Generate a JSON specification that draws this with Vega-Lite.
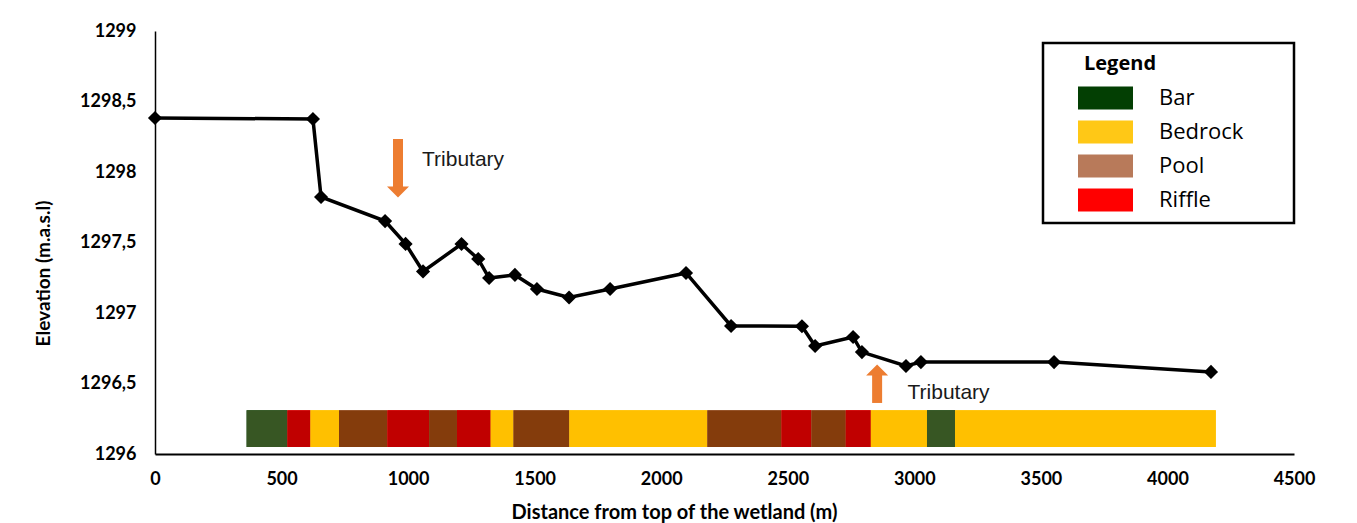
{
  "$schema": "https://vega.github.io/schema/vega-lite/v6.json",
  "autosize": {"type": "none"},
  "width": 1139,
  "height": 423,
  "padding": {"left": 155, "top": 31, "right": 63, "bottom": 69},
  "background": "white",
  "config": {
    "view": {"stroke": null},
    "axis": {"grid": false, "ticks": false, "domainColor": "black", "labelColor": "black", "titleColor": "black", "labelFont": "Lato", "titleFont": "Lato", "labelFontWeight": "bold", "titleFontWeight": "bold"},
    "legend": {"strokeWidth": 2.5}
  },
  "datasets": {
    "profile": [
      {"distance": 0, "elevation": 1298.383},
      {"distance": 624, "elevation": 1298.376},
      {"distance": 656, "elevation": 1297.823},
      {"distance": 909, "elevation": 1297.652},
      {"distance": 990, "elevation": 1297.49},
      {"distance": 1059, "elevation": 1297.295},
      {"distance": 1211, "elevation": 1297.489},
      {"distance": 1277, "elevation": 1297.383},
      {"distance": 1320, "elevation": 1297.248},
      {"distance": 1422, "elevation": 1297.27},
      {"distance": 1509, "elevation": 1297.17},
      {"distance": 1636, "elevation": 1297.11},
      {"distance": 1798, "elevation": 1297.17},
      {"distance": 2098, "elevation": 1297.284},
      {"distance": 2276, "elevation": 1296.908},
      {"distance": 2556, "elevation": 1296.906},
      {"distance": 2608, "elevation": 1296.766},
      {"distance": 2758, "elevation": 1296.83},
      {"distance": 2793, "elevation": 1296.723},
      {"distance": 2967, "elevation": 1296.624},
      {"distance": 3026, "elevation": 1296.652},
      {"distance": 3552, "elevation": 1296.652},
      {"distance": 4172, "elevation": 1296.582}
    ],
    "units": [
      {"start": 362, "end": 523, "type": "Bar"},
      {"start": 523, "end": 614, "type": "Riffle"},
      {"start": 614, "end": 727, "type": "Bedrock"},
      {"start": 727, "end": 918, "type": "Pool"},
      {"start": 918, "end": 1083, "type": "Riffle"},
      {"start": 1083, "end": 1193, "type": "Pool"},
      {"start": 1193, "end": 1326, "type": "Riffle"},
      {"start": 1326, "end": 1416, "type": "Bedrock"},
      {"start": 1416, "end": 1637, "type": "Pool"},
      {"start": 1637, "end": 2182, "type": "Bedrock"},
      {"start": 2182, "end": 2475, "type": "Pool"},
      {"start": 2475, "end": 2593, "type": "Riffle"},
      {"start": 2593, "end": 2729, "type": "Pool"},
      {"start": 2729, "end": 2828, "type": "Riffle"},
      {"start": 2828, "end": 3050, "type": "Bedrock"},
      {"start": 3050, "end": 3161, "type": "Bar"},
      {"start": 3161, "end": 4191, "type": "Bedrock"}
    ],
    "arrows": [
      {"distance": 960, "from": 1298.234, "to": 1297.872, "head": 1297.858, "dir": "down"},
      {"distance": 2853, "from": 1296.362, "to": 1296.574, "head": 1296.596, "dir": "up"}
    ],
    "notes": [
      {"distance": 1055, "elevation": 1298.085, "label": "Tributary"},
      {"distance": 2973, "elevation": 1296.433, "label": "Tributary"}
    ]
  },
  "layer": [
    {
      "data": {"name": "units"},
      "mark": {"type": "rect"},
      "encoding": {
        "x": {"field": "start", "type": "quantitative", "scale": {"domain": [0, 4500], "nice": false, "zero": false},
          "axis": {"values": [0, 500, 1000, 1500, 2000, 2500, 3000, 3500, 4000, 4500], "format": "d", "labelFontSize": 18, "labelPadding": 16, "labelFlush": false, "domainWidth": 2,
            "title": "Distance from top of the wetland (m)", "titleFontSize": 20, "titleX": 519, "titleY": 58, "titleBaseline": "middle"}},
        "x2": {"field": "end"},
        "y": {"datum": 1296.31, "type": "quantitative", "scale": {"domain": [1296, 1299], "nice": false, "zero": false},
          "axis": {"values": [1296, 1296.5, 1297, 1297.5, 1298, 1298.5, 1299], "format": ".1~f", "labelExpr": "replace(datum.label, '.', ',')", "labelFontSize": 18, "labelPadding": 19, "domainWidth": 1.5,
            "title": "Elevation (m.a.s.l)", "titleFontSize": 19, "titleX": -112, "titleY": 242, "titleBaseline": "middle"}},
        "y2": {"datum": 1296.05},
        "fill": {"field": "type", "type": "nominal",
          "scale": {"domain": ["Bar", "Bedrock", "Pool", "Riffle"], "range": ["#033F03", "#FFC816", "#B87A5A", "#FF0000"]},
          "legend": {
            "title": "⠀⠀Legend",
            "orient": "none", "legendX": 888, "legendY": 12,
            "padding": 11, "strokeColor": "black", "fillColor": "white",
            "titleFont": "Open Sans", "titleFontSize": 20, "titleFontWeight": "bold", "titleColor": "black", "titlePadding": 12,
            "labelFont": "Open Sans", "labelFontSize": 22, "labelColor": "black", "labelOffset": 26,
            "labelExpr": "datum.label + '⠀\u2004⠀'",
            "symbolType": "M-1,-0.42H1V0.42H-1Z", "symbolSize": 3025, "symbolStrokeWidth": 0, "symbolOffset": 24,
            "clipHeight": 24, "rowPadding": 10
          }}
      }
    },
    {
      "data": {"name": "units"},
      "mark": {"type": "rect"},
      "encoding": {
        "x": {"field": "start", "type": "quantitative"},
        "x2": {"field": "end"},
        "y": {"datum": 1296.31, "type": "quantitative"},
        "y2": {"datum": 1296.05},
        "color": {"field": "type", "type": "nominal",
          "scale": {"domain": ["Bar", "Bedrock", "Pool", "Riffle"], "range": ["#375623", "#FFC000", "#843C0C", "#C00000"]},
          "legend": null}
      }
    },
    {
      "data": {"name": "profile"},
      "mark": {"type": "line", "color": "black", "strokeWidth": 3.5,
        "point": {"filled": true, "shape": "diamond", "size": 200, "color": "black"}},
      "encoding": {
        "x": {"field": "distance", "type": "quantitative"},
        "y": {"field": "elevation", "type": "quantitative"}
      }
    },
    {
      "data": {"name": "arrows"},
      "mark": {"type": "rule", "color": "#ED7D31", "strokeWidth": 10, "strokeCap": "butt"},
      "encoding": {
        "x": {"field": "distance", "type": "quantitative"},
        "y": {"field": "from", "type": "quantitative"},
        "y2": {"field": "to"}
      }
    },
    {
      "data": {"name": "arrows"},
      "mark": {"type": "point", "filled": true, "color": "#ED7D31", "opacity": 1, "size": 484},
      "encoding": {
        "x": {"field": "distance", "type": "quantitative"},
        "y": {"field": "head", "type": "quantitative"},
        "shape": {"field": "dir", "type": "nominal",
          "scale": {"domain": ["down", "up"], "range": ["M-1,-0.5L1,-0.5L0,0.5Z", "M-1,0.5L1,0.5L0,-0.5Z"]},
          "legend": null}
      }
    },
    {
      "data": {"name": "notes"},
      "mark": {"type": "text", "align": "left", "baseline": "middle", "font": "Liberation Sans", "fontSize": 21, "color": "#1a1a1a"},
      "encoding": {
        "x": {"field": "distance", "type": "quantitative"},
        "y": {"field": "elevation", "type": "quantitative"},
        "text": {"field": "label"}
      }
    }
  ]
}
